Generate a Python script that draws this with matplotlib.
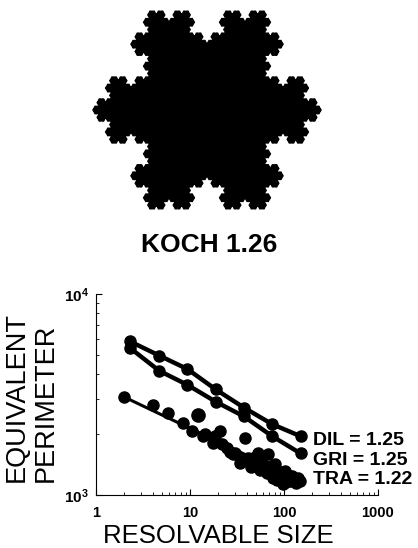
import numpy as np
import matplotlib
matplotlib.use('Agg')
import matplotlib.pyplot as plt

plt.rcParams['font.family'] = ['Liberation Sans', 'DejaVu Sans']
plt.rcParams['mathtext.fontset'] = 'custom'
plt.rcParams['mathtext.rm'] = 'Liberation Sans'
plt.rcParams['mathtext.bf'] = 'Liberation Sans:bold'

# %% data
size_grid = [2.3, 4.7, 9.4, 18.8, 37.5, 75, 150]
perim_dil = [5810, 4940, 4230, 3350, 2720, 2250, 1960]
perim_gri = [5390, 4150, 3530, 2910, 2460, 1960, 1610]

tra_size = [2.0, 4.0, 5.8, 8.4, 10.5, 13.7, 14.4, 17.6, 18.5, 18.5, 20.9,
            21.9, 24.8, 26.6, 28.7, 30, 34, 38.5, 41, 46.8, 49, 53, 58, 63,
            68, 72, 80, 86, 90, 95, 100, 102, 110, 116, 122, 130, 141, 148,
            34, 45, 56, 66, 76, 85, 97, 105, 120, 135]
tra_perim = [3070, 2810, 2570, 2270, 2070, 1960, 2000, 1810, 1960, 1850,
             2070, 1790, 1715, 1640, 1600, 1620, 1530, 1920, 1530, 1530,
             1400, 1620, 1450, 1370, 1600, 1400, 1430, 1250, 1300, 1180,
             1210, 1320, 1230, 1250, 1250, 1200, 1210, 1180,
             1450, 1380, 1330, 1290, 1220, 1190, 1140, 1160, 1180, 1150]
tra_out_size = [12.2]
tra_out_perim = [2510]
tra_fit_size = [2.0, 148]
tra_fit_perim = [3070, 1180]

labels = ['DIL = 1.25', 'GRI = 1.25', 'TRA = 1.22']
title = 'KOCH 1.26'

W, H = 418, 548
fig = plt.figure(figsize=(W / 100, H / 100), dpi=100)

# %% overlay in pixel coords for snowflake and free texts
ax0 = fig.add_axes([0, 0, 1, 1])
ax0.set_xlim(0, W)
ax0.set_ylim(H, 0)
ax0.axis('off')


def koch_edge(a, b, n):
    if n == 0:
        return [a]
    d = (b - a) / 3
    p1 = a + d
    p2 = p1 + d * np.exp(-1j * np.pi / 3)
    p3 = a + 2 * d
    return (koch_edge(a, p1, n - 1) + koch_edge(p1, p2, n - 1)
            + koch_edge(p2, p3, n - 1) + koch_edge(p3, b, n - 1))


cx, cy, R = 207, 110, 114
verts = [R * np.exp(1j * np.deg2rad(a)) for a in (0, 120, 240)]
pts = []
for i in range(3):
    pts += koch_edge(verts[i], verts[(i + 1) % 3], 5)
pts = np.array(pts)
ax0.fill(cx + pts.real, cy - pts.imag, facecolor='black',
         edgecolor='black', lw=1.2, joinstyle='round')

ax0.text(209, 252, title, fontsize=19, fontweight='bold',
         ha='center', va='baseline')

ax0.text(50, 482, 'EQUIVALENT\nPERIMETER', fontsize=19.5, rotation=90,
         rotation_mode='anchor', ha='left', va='baseline',
         linespacing=1.15, multialignment='left')
ax0.text(103, 543, 'RESOLVABLE SIZE', fontsize=18.5,
         ha='left', va='baseline')

for lab, yb in zip(labels, [445, 465, 484]):
    ax0.text(313, yb, lab, fontsize=14, fontweight='bold',
             ha='left', va='baseline')

# %% log-log plot
ax = fig.add_axes([96 / W, (H - 495) / H, (378 - 96) / W, (495 - 294) / H])
ax.set_xscale('log')
ax.set_yscale('log')
ax.set_xlim(1, 1000)
ax.set_ylim(1000, 10000)
ax.patch.set_alpha(0)

ax.plot(size_grid, perim_dil, 'k-', lw=3.2, marker='o', ms=8,
        solid_capstyle='round', clip_on=False)
ax.plot(size_grid, perim_gri, 'k-', lw=3.2, marker='o', ms=8,
        solid_capstyle='round', clip_on=False)
ax.plot(tra_fit_size, tra_fit_perim, 'k-', lw=2.2, clip_on=False)
ax.plot(tra_size, tra_perim, 'ko', ms=8, clip_on=False)
ax.plot(tra_out_size, tra_out_perim, 'ko', ms=9.5, clip_on=False)

for s in ['top', 'right']:
    ax.spines[s].set_visible(False)
for s in ['left', 'bottom']:
    ax.spines[s].set_linewidth(0.8)

ax.set_xticks([1, 10, 100, 1000])
ax.set_xticklabels(['1', '10', '100', '1000'], fontweight='bold',
                   fontsize=10.5)
ax.set_yticks([1000, 10000])
ax.set_yticklabels([r'$\mathbf{10^{3}}$', r'$\mathbf{10^{4}}$'],
                   fontsize=11)
ax.tick_params(which='major', direction='in', length=4, width=0.8)
ax.tick_params(which='minor', direction='in', length=2, width=0.6)
ax.tick_params(axis='x', which='major', pad=8)
ax.tick_params(axis='y', which='major', pad=5)

fig.savefig('out.png', dpi=100)
